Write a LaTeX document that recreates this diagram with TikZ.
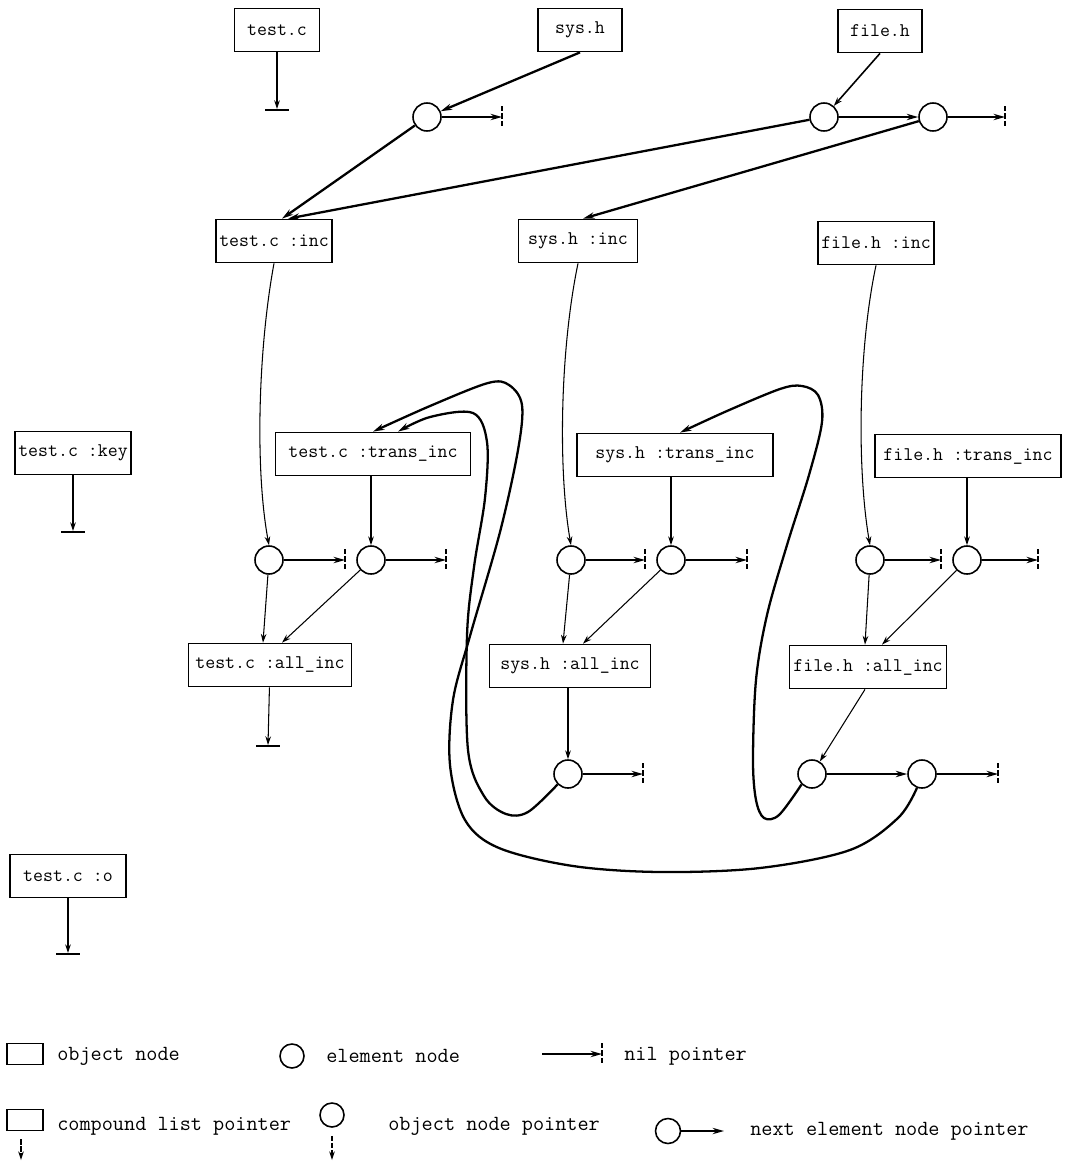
\documentclass[tikz,border=0pt]{standalone}
\usetikzlibrary{arrows.meta,calc}
\newcommand\nilbar[1]{\draw[nilbar] ($(#1)+(0,-11)$) -- ($(#1)+(0,11)$);}
\newcommand\groundat[1]{\draw[groundline] ($(#1)+(-12,1)$) -- ($(#1)+(12,1)$);}
\begin{document}
\begin{tikzpicture}[x=0.02cm,y=-0.02cm,
  obj/.style={draw,line width=1pt,minimum height=0.86cm,inner xsep=2pt,inner ysep=0pt,
              font=\ttfamily\fontsize{11}{13}\selectfont},
  bw/.style={minimum width=#1*0.02cm},
  elem/.style={draw,circle,line width=0.9pt,minimum size=0.56cm,inner sep=0pt},
  thinarr/.style={line width=0.6pt,-{Stealth[length=5pt,width=3.2pt]}},
  thickarr/.style={line width=1.3pt,-{Stealth[length=6.5pt,width=3.6pt]}},
  nilbar/.style={line width=0.7pt,dash pattern=on 3pt off 1.2pt},
  groundline/.style={line width=1.6pt},
  lgtext/.style={anchor=west,font=\ttfamily\fontsize{12.3}{14}\selectfont,inner sep=0pt}
]
\useasboundingbox (0,0) rectangle (1074,1163);

% ---- object nodes ----
\node[obj,bw=85]  (tc)  at (277,30)  {test.c};
\node[obj,bw=84]  (sh)  at (580,30)  {sys.h};
\node[obj,bw=84]  (fh)  at (880,31)  {file.h};
\node[obj,bw=113] (tci) at (274,241) {test.c :inc};
\node[obj,bw=119] (shi) at (578,241) {sys.h :inc};
\node[obj,bw=115] (fhi) at (876,243) {file.h :inc};
\node[obj,bw=116] (tck) at (73,453)  {test.c :key};
\node[obj,bw=195] (tct) at (373,454) {test.c :trans\_inc};
\node[obj,bw=196] (sht) at (675,455) {sys.h :trans\_inc};
\node[obj,bw=186] (fht) at (968,456) {file.h :trans\_inc};
\node[obj,bw=163] (tca) at (270,665) {test.c :all\_inc};
\node[obj,bw=161] (sha) at (570,666) {sys.h :all\_inc};
\node[obj,bw=157] (fha) at (868,667) {file.h :all\_inc};
\node[obj,bw=116] (tco) at (68,876)  {test.c :o};

% ---- element nodes ----
\node[elem] (e1) at (427,117) {};
\node[elem] (e2) at (824,117) {};
\node[elem] (e3) at (933,117) {};
\node[elem] (c1) at (269,560) {};
\node[elem] (c2) at (371,560) {};
\node[elem] (c3) at (571,560) {};
\node[elem] (c4) at (671,560) {};
\node[elem] (c5) at (870,560) {};
\node[elem] (c6) at (967,560) {};
\node[elem] (c7) at (568,774) {};
\node[elem] (c8) at (812,774) {};
\node[elem] (c9) at (922,774) {};

% ---- nil ends ----
\coordinate (n1) at (502,117);
\coordinate (n2) at (1005,117);
\coordinate (n3) at (345,560);
\coordinate (n4) at (446,560);
\coordinate (n5) at (645,560);
\coordinate (n6) at (747,560);
\coordinate (n7) at (941,560);
\coordinate (n8) at (1038,560);
\coordinate (n9) at (643,774);
\coordinate (n10) at (998,774);
\coordinate (g1) at (277,109);
\coordinate (g2) at (73,531);
\coordinate (g3) at (268,745);
\coordinate (g4) at (68,953);

% next element pointers
\draw[thickarr] (e1) -- (n1);   \nilbar{n1}
\draw[thickarr] (e2) -- (e3);
\draw[thickarr] (e3) -- (n2);   \nilbar{n2}
\draw[thickarr] (c1) -- (n3);   \nilbar{n3}
\draw[thickarr] (c2) -- (n4);   \nilbar{n4}
\draw[thickarr] (c3) -- (n5);   \nilbar{n5}
\draw[thickarr] (c4) -- (n6);   \nilbar{n6}
\draw[thickarr] (c5) -- (n7);   \nilbar{n7}
\draw[thickarr] (c6) -- (n8);   \nilbar{n8}
\draw[thickarr] (c7) -- (n9);   \nilbar{n9}
\draw[thickarr] (c8) -- (c9);
\draw[thickarr] (c9) -- (n10);  \nilbar{n10}

% empty compound lists
\draw[thinarr] (tc) -- (g1);  \groundat{g1}
\draw[thinarr] (tck) -- (g2); \groundat{g2}
\draw[thinarr] (tca) -- (g3); \groundat{g3}
\draw[thinarr] (tco) -- (g4); \groundat{g4}

% top lists
\draw[thickarr] (sh.south) -- (e1);
\draw[thinarr,line width=0.9pt] (fh.south) -- (e2);
\draw[thickarr] (e1) -- ($(tci.north)+(8,0)$);
\draw[thickarr] (e2) -- ($(tci.north)+(14,0)$);
\draw[thickarr] (e3) -- ($(shi.north)+(5,0)$);

% :inc -> element lists
\draw[thinarr] (tci.south) .. controls (258,350) and (255,470) .. (c1.north);
\draw[thinarr] (shi.south) .. controls (560,350) and (558,470) .. (c3.north);
\draw[thinarr] (fhi.south) .. controls (858,350) and (857,470) .. (c5.north);

% :trans_inc -> element lists
\draw[thinarr] (c2.north |- tct.south) -- (c2.north);
\draw[thinarr] (c4.north |- sht.south) -- (c4.north);
\draw[thinarr] (c6.north |- fht.south) -- (c6.north);

% elements -> :all_inc
\draw[thinarr] (c1) -- ($(tca.north)+(-7,0)$);
\draw[thinarr] (c2) -- ($(tca.north)+(12,0)$);
\draw[thinarr] (c3) -- ($(sha.north)+(-7,0)$);
\draw[thinarr] (c4) -- ($(sha.north)+(13,0)$);
\draw[thinarr] (c5) -- ($(fha.north)+(-3,0)$);
\draw[thinarr] (c6) -- ($(fha.north)+(14,0)$);

% :all_inc -> element lists
\draw[thinarr] (c7.north |- sha.south) -- (c7.north);
\draw[thinarr] ($(fha.south)+(-3,0)$) -- (c8);

% element -> object pointers looping back
\draw[thickarr] plot[smooth,tension=0.55] coordinates {
  (c7.225) (528,812) (506,814) (484,796) (468,750) (467,636) (474,567)
  (485,498) (487,442) (473,413) (430,417) ($(tct.north)+(25,0)$)};
\draw[thickarr] plot[smooth,tension=0.55] coordinates {
  (c9.250) (898,818) (850,850) (760,868) (660,872) (573,866) (499,848)
  (465,820) (450,765) (453,700) (470,636) (500,532) (518,450) (522,405)
  (509,385) (488,383) (430,406) ($(tct.north)+(0,0)$)};
\draw[thickarr] plot[smooth,tension=0.55] coordinates {
  (c8.225) (779,815) (764,818) (756,800) (753,760) (756,680) (767,615)
  (787,545) (809,475) (822,422) (818,395) (802,386) (780,389) (727,411)
  ($(sht.north)+(5,0)$)};

% ---- legend ----
\node[obj,minimum width=0.72cm,minimum height=0.42cm] (lgobj) at (25,1054) {};
\node[lgtext] (lgobjt) at (57,1056) {object node};
\node[elem,minimum size=0.48cm] (lgel) at (292,1056) {};
\node[lgtext] (lgelt) at (326,1056) {element node};
\coordinate (lgnila) at (542,1054);
\coordinate (lgnil) at (602,1054);
\draw[thickarr,line width=1pt] (lgnila) -- (lgnil); \nilbar{lgnil}
\node[lgtext] (lgnilt) at (624,1056) {nil pointer};

\node[obj,minimum width=0.72cm,minimum height=0.42cm] (lgcmp) at (25,1120) {};
\coordinate (lgcmpe) at (21,1160);
\draw[thinarr,dash pattern=on 3pt off 1pt] ($(lgcmp.south)+(-4,8)$) -- (lgcmpe);
\node[lgtext] (lgcmpt) at (57,1126) {compound list pointer};
\node[elem,minimum size=0.48cm] (lgop) at (332,1115) {};
\coordinate (lgope) at (332,1160);
\draw[thinarr,dash pattern=on 3pt off 1pt] ($(lgop.south)+(0,8)$) -- (lgope);
\node[lgtext] (lgopt) at (388,1126) {object node pointer};
\node[elem,minimum size=0.5cm] (lgnx) at (668,1131) {};
\coordinate (lgnxe) at (724,1131);
\draw[thickarr,line width=1pt] (lgnx) -- (lgnxe);
\node[lgtext] (lgnxt) at (750,1131) {next element node pointer};
\end{tikzpicture}
\end{document}
